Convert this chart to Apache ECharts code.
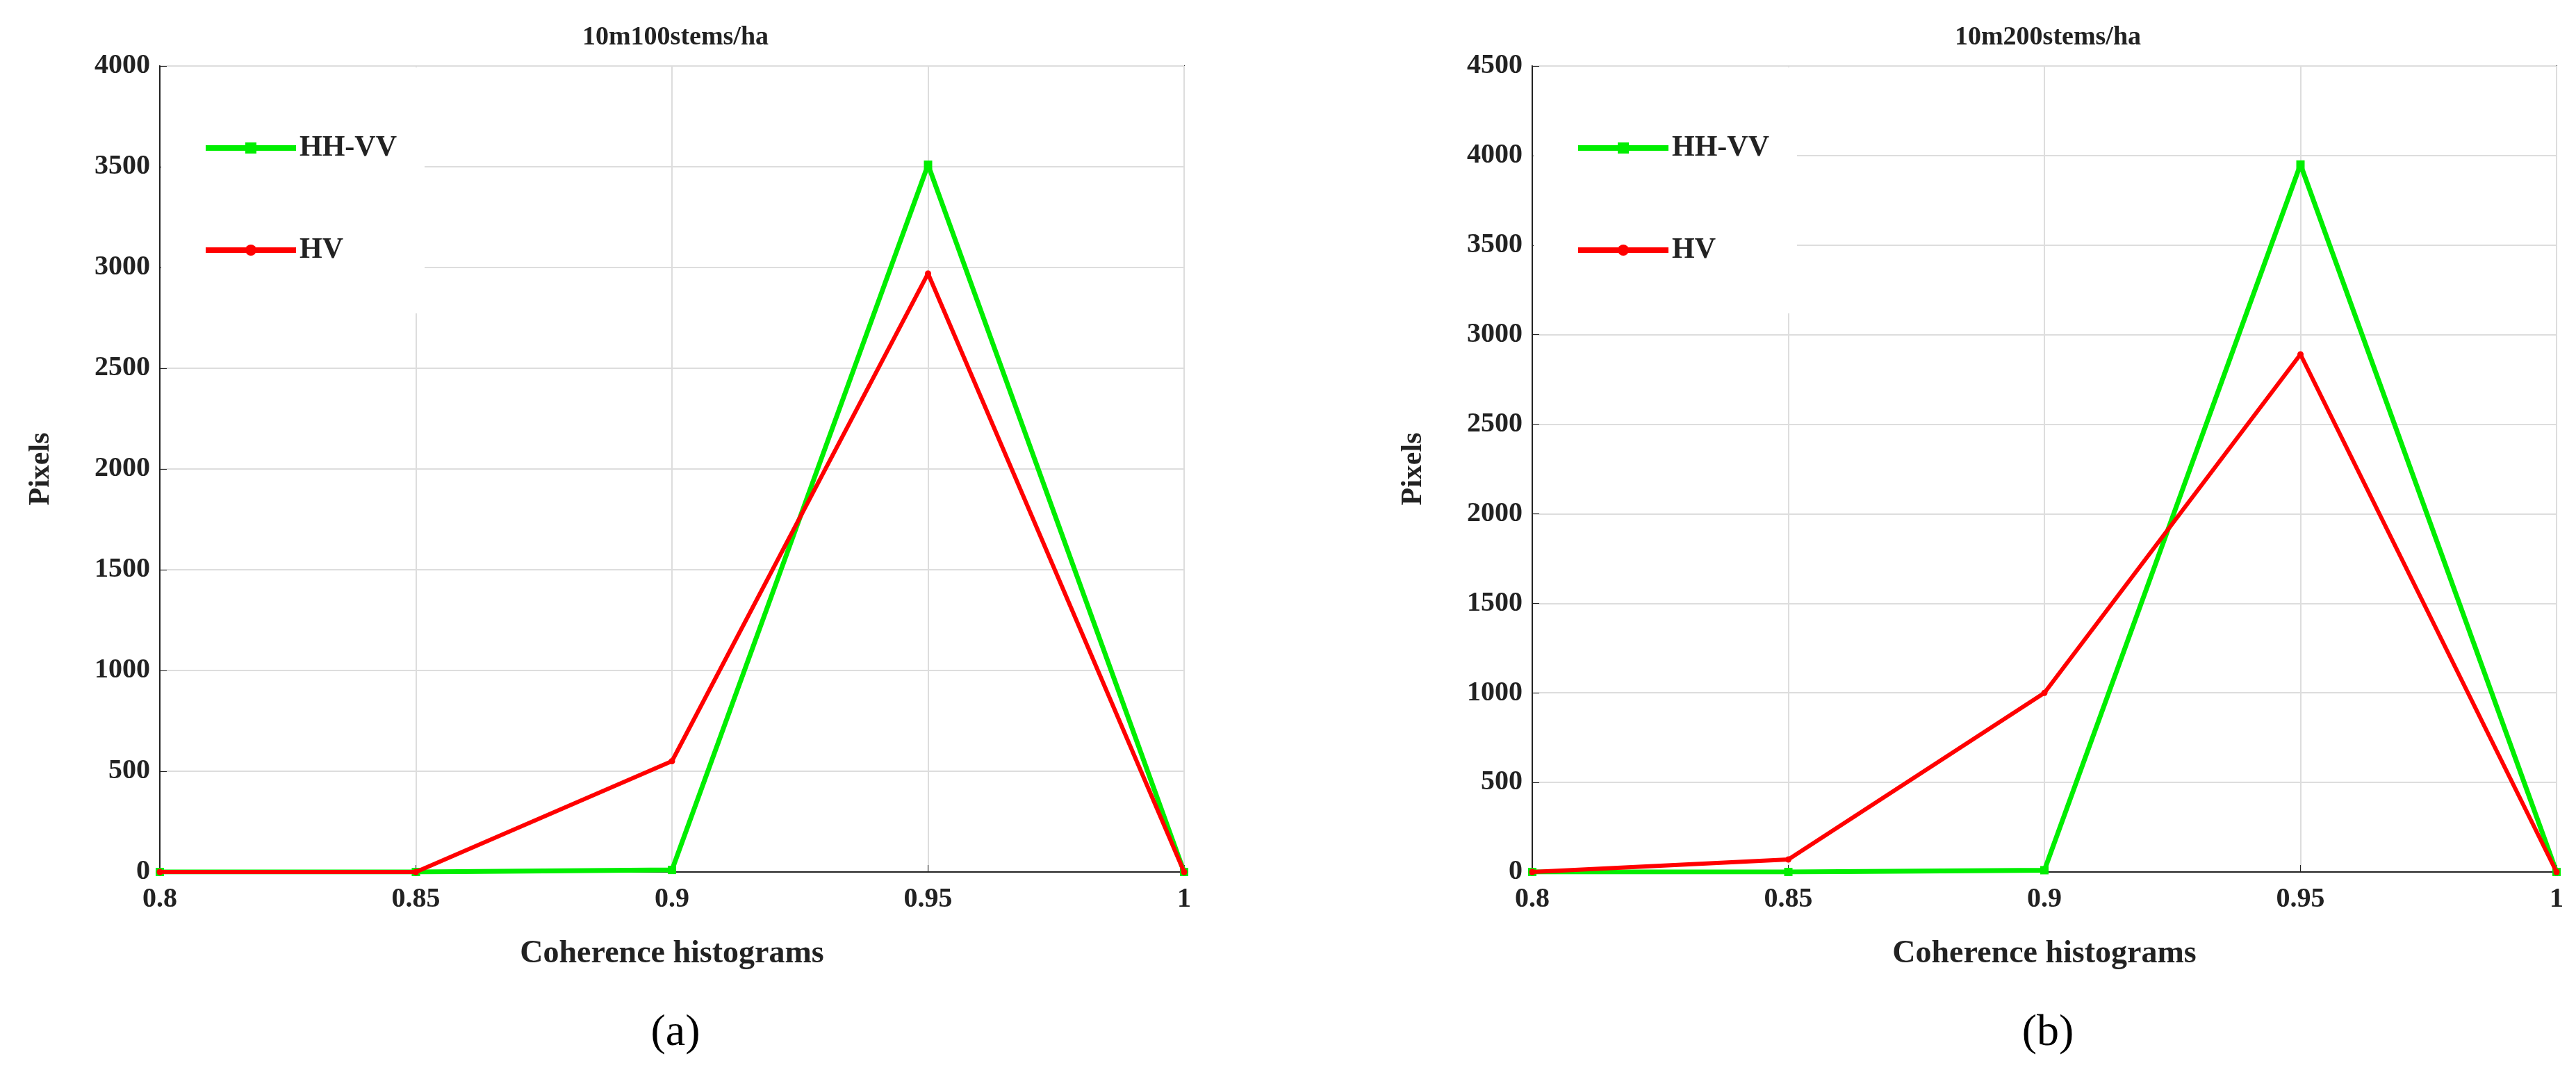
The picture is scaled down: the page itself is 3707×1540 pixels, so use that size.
<!DOCTYPE html>
<html><head><meta charset="utf-8">
<script src="https://cdn.jsdelivr.net/npm/echarts@6/dist/echarts.min.js"></script>
<style>html,body{margin:0;padding:0;background:#fff}#c{width:3707px;height:1540px}</style>
</head><body><div id="c"></div>
<script>
const coherence = [0.8, 0.85, 0.9, 0.95, 1];
const hhvvA = [0, 0, 10, 3510, 0];
const hvA = [0, 0, 550, 2970, 0];
const hhvvB = [0, 0, 10, 3950, 0];
const hvB = [0, 70, 1000, 2890, 0];
const titles = ['10m100stems/ha', '10m200stems/ha'];
const yMax = [4000, 4500];
const panelLabels = ['(a)', '(b)'];

const F = 'Liberation Serif';
const chart = echarts.init(document.getElementById('c'));
const pair = a => a.map((v, i) => [coherence[i], v]);
const lefts = [230, 2205], W = 1474;
const grids = [], xAxes = [], yAxes = [], series = [], legends = [], titleArr = [];
[0, 1].forEach(k => {
  grids.push({left: lefts[k], top: 95, width: W, height: 1160, show: true, borderColor: '#222', borderWidth: 2});
  xAxes.push({type: 'value', gridIndex: k, min: 0.8, max: 1, interval: 0.05,
    name: 'Coherence histograms', nameLocation: 'middle', nameGap: 95,
    nameTextStyle: {fontFamily: F, fontWeight: 'bold', fontSize: 46, color: '#222'},
    axisLine: {lineStyle: {color: '#222', width: 2}}, axisTick: {inside: true, length: 10, lineStyle: {color: '#222'}},
    axisLabel: {fontFamily: F, fontWeight: 'bold', fontSize: 40, color: '#222', margin: 20, formatter: v => String(v)},
    splitLine: {lineStyle: {color: '#ddd', width: 2}}});
  yAxes.push({type: 'value', gridIndex: k, min: 0, max: yMax[k], interval: 500,
    name: 'Pixels', nameLocation: 'middle', nameGap: 150,
    nameTextStyle: {fontFamily: F, fontWeight: 'bold', fontSize: 42, color: '#222'},
    axisLine: {show: true, lineStyle: {color: '#222', width: 2}}, axisTick: {inside: true, length: 10, lineStyle: {color: '#222'}},
    axisLabel: {fontFamily: F, fontWeight: 'bold', fontSize: 40, color: '#222', margin: 14, formatter: v => String(v)},
    splitLine: {lineStyle: {color: '#ddd', width: 2}}});
  const g = k ? hhvvB : hhvvA, r = k ? hvB : hvA;
  series.push({name: 'HH-VV', type: 'line', xAxisIndex: k, yAxisIndex: k, data: pair(g),
    symbol: 'rect', symbolSize: 12, itemStyle: {color: '#00ee00'}, lineStyle: {color: '#00ee00', width: 7}, z: 2});
  series.push({name: 'HV', type: 'line', xAxisIndex: k, yAxisIndex: k, data: pair(r),
    symbol: 'circle', symbolSize: 9, itemStyle: {color: '#ff0000'}, lineStyle: {color: '#ff0000', width: 6}, z: 3});
  legends.push({left: lefts[k] + 2, top: 97, orient: 'vertical', backgroundColor: '#fff',
    padding: [95, 40, 70, 60], itemGap: 105, itemWidth: 130, itemHeight: 20,
    lineStyle: {width: 8},
    textStyle: {fontFamily: F, fontWeight: 'bold', fontSize: 42, color: '#222'},
    data: ['HH-VV', 'HV'], selectedMode: false});
  titleArr.push({text: titles[k], left: lefts[k] + W / 2, textAlign: 'center', top: 30,
    textStyle: {fontFamily: F, fontWeight: 'bold', fontSize: 38, color: '#222'}});
  titleArr.push({text: panelLabels[k], left: lefts[k] + W / 2, textAlign: 'center', top: 1450,
    textStyle: {fontFamily: F, fontWeight: 'normal', fontSize: 64, color: '#000'}});
});
chart.setOption({animation: false, title: titleArr, grid: grids, xAxis: xAxes, yAxis: yAxes, legend: legends, series: series});
</script></body></html>
